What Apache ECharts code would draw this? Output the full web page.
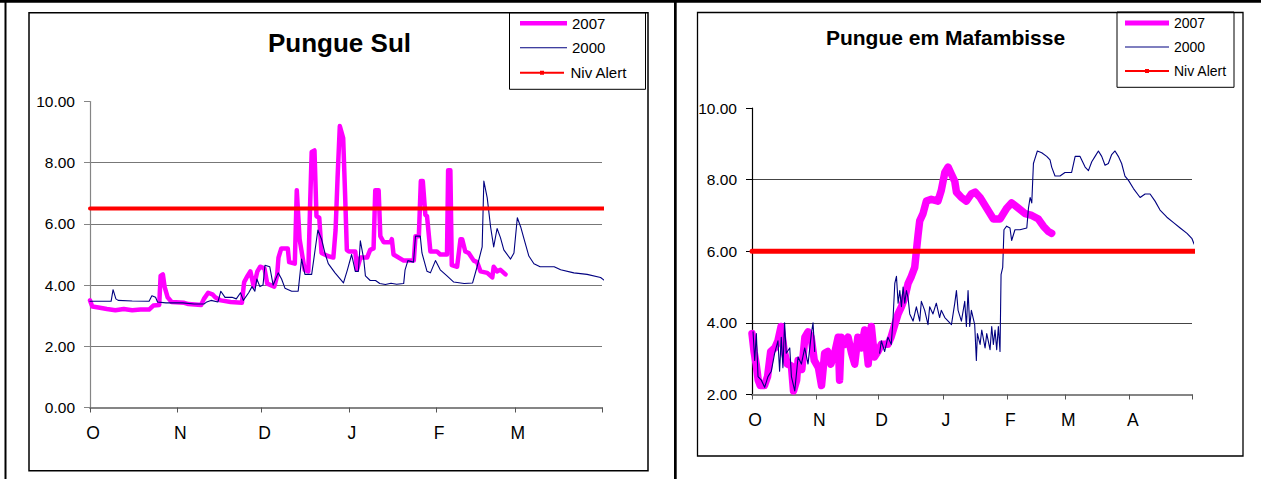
<!DOCTYPE html>
<html>
<head>
<meta charset="utf-8">
<script src="https://cdn.jsdelivr.net/npm/echarts@6/dist/echarts.min.js"></script>
<style>
html,body{margin:0;padding:0;background:#ffffff;}
#c{width:1261px;height:479px;}
</style>
</head>
<body>
<div id="c"></div>
<script>
// ---------- shared ----------
const FONT = '"Liberation Sans", Arial, Helvetica, sans-serif';
const seriesNames = ['2007', '2000', 'Niv Alert'];

// ---------- Pungue Sul (days counted from 1 October) ----------
const sulTitle = 'Pungue Sul';
const sulMonths = ['O', 'N', 'D', 'J', 'F', 'M'];
const sulMonthStart = [0, 31, 61, 92, 123, 151];
const sulAxisEnd = 182;
const sulYTicks = [0, 10, 2];           // min, max, step
const sulAlertLevel = 6.5;
const sul2007 = [[0,3.5],[0.8,3.3],[3,3.27],[6,3.22],[9,3.18],[12,3.22],[15,3.18],[18,3.2],[21,3.2],[22.5,3.33],[24.6,3.35],
  [25.1,4.3],[25.9,4.35],[26.5,3.95],[27.6,3.6],[29,3.45],[33.5,3.42],[35,3.38],[39.5,3.35],[40.5,3.55],[42,3.75],[43.5,3.7],
  [44.5,3.6],[46.5,3.5],[50,3.45],[54,3.42],[54.8,4.1],[56,4.3],[57,4.45],[58.2,3.95],[59.5,4.45],[60.5,4.6],[62,4.55],[63,4.05],
  [65.5,3.95],[66.5,4.3],[67,4.9],[68,5.2],[70.3,5.2],[70.8,4.75],[72.8,4.7],[73.5,7.1],[74.5,5.5],[76.3,4.5],[77.6,4.45],
  [78.3,6.8],[78.8,8.35],[79.8,8.4],[80.5,6.25],[81.5,6.2],[82.3,5.05],[84.5,4.95],[86.5,4.9],[87.3,5.8],[88,7.5],[88.8,9.2],
  [90,8.8],[90.7,6.9],[91.3,5.15],[92,5.1],[94.3,5.1],[94.9,4.5],[96.1,4.9],[98.5,4.9],[99.6,5.15],[100.8,5.2],[101.4,7.1],
  [102.6,7.1],[103.2,5.6],[104.4,5.4],[106.8,5.4],[107.3,5.5],[107.9,5.0],[111.5,4.8],[115.1,4.8],[115.7,5.6],[116.9,5.6],
  [117.6,7.4],[118.3,7.4],[119.2,6.3],[119.8,6.25],[121,5.1],[123.3,5.1],[124.5,5.0],[126.9,5.0],[127.3,7.75],[128.1,7.75],
  [128.6,4.65],[130.5,4.6],[131.7,5.5],[132.3,5.5],[133.4,5.1],[134.6,5.05],[136.4,4.8],[137.6,4.75],[138.8,4.45],[141.2,4.4],
  [143,4.25],[143.5,4.6],[144.7,4.45],[145.9,4.5],[147.7,4.35]];
const sul2000 = [[0,3.47],[7.5,3.47],[8.2,3.85],[9.2,3.55],[10,3.5],[15,3.48],[21,3.47],[22,3.65],[23.3,3.6],[24,3.45],[27,3.42],
  [33,3.42],[37,3.38],[40.5,3.38],[41.5,3.45],[43,3.5],[45.5,3.45],[46.5,3.8],[48,3.6],[50.5,3.6],[52,3.55],[53.5,3.75],[54.5,3.5],
  [56.4,3.75],[57.6,3.95],[58.6,3.8],[59.3,4.2],[60.4,3.95],[61.5,4.0],[62.2,4.65],[63.9,4.6],[65.1,4.0],[66.9,4.4],[68.1,4.2],
  [69.3,3.9],[70.5,3.85],[71.7,3.8],[74,3.8],[75.2,4.85],[76.4,4.35],[78.8,4.35],[81,5.8],[82.3,5.5],[83.5,5.05],[84.7,4.7],
  [87.1,4.4],[90.1,4.07],[91.5,4.5],[93,5.0],[94.3,4.45],[95.4,4.45],[96.1,5.45],[97.3,4.85],[97.9,4.3],[99.6,4.15],[101.5,4.15],
  [103,4.05],[105,4.02],[107,4.06],[109,4.03],[111.5,4.05],[112,4.5],[113,4.8],[115,4.75],[115.7,5.6],[117.4,5.6],[118,5.05],
  [119.8,4.45],[121,4.4],[122.8,4.8],[124.5,4.5],[126.9,4.3],[129.3,4.1],[133,4.05],[136,4.07],[137.6,4.6],[139.4,5.25],[140,7.4],
  [141.2,6.85],[142.4,5.9],[143.5,5.25],[144.7,5.85],[145.9,5.55],[147.1,5.15],[149.5,4.85],[150.7,5.05],[151.9,6.2],[153.1,5.9],
  [154.3,5.5],[156,4.95],[157.8,4.7],[160,4.6],[162.5,4.6],[165,4.6],[167.3,4.5],[172,4.4],[176.7,4.35],[181.5,4.25],[183.3,4.12]];
const sulAlertDays = [0, 184];

// ---------- Pungue em Mafambisse (days counted from 1 October) ----------
const mafTitle = 'Pungue em Mafambisse';
const mafMonths = ['O', 'N', 'D', 'J', 'F', 'M', 'A'];
const mafMonthStart = [0, 31, 61, 92, 123, 151, 182];
const mafAxisEnd = 212;
const mafYTicks = [2, 10, 2];
const mafAlertLevel = 6.0;
const maf2007 = [[0,3.7],[1,3.2],[2,2.85],[3,2.4],[4,2.25],[6,2.25],[7.5,2.5],[9,3.2],[11,3.3],[12.5,3.5],[14,3.9],[15.5,3.2],
  [17,2.85],[19,2.8],[20,2.1],[21.5,2.4],[22.2,2.95],[24,2.7],[25.5,3.6],[27,3.75],[28.5,3.6],[30,2.95],[32,2.75],[33.5,2.25],
  [35,3.15],[36.5,3.2],[38,2.85],[40,3.2],[41.5,3.6],[42.2,2.4],[43,3.6],[44.7,3.4],[46.3,3.6],[48,3.15],[49.5,2.85],[51,3.6],
  [52.7,3.3],[54.3,3.8],[56,2.85],[57.5,3.9],[59,3.05],[60.7,3.2],[62.3,3.4],[65.5,3.4],[67,3.6],[68.8,3.95],[70.4,4.25],[72,4.45],
  [73.6,4.7],[75.2,5.1],[76.8,5.3],[78.4,5.55],[79.2,6.0],[80,6.45],[80.8,6.85],[82.4,7.05],[84,7.4],[86.4,7.45],[89.6,7.4],
  [91.2,7.7],[92.9,8.2],[94.5,8.35],[96.1,8.15],[97.7,7.95],[98.5,7.65],[100.9,7.5],[103.3,7.4],[105.7,7.6],[107.5,7.65],
  [109.9,7.5],[113.1,7.2],[116.3,6.9],[119.5,6.9],[122.7,7.2],[125.1,7.35],[128.4,7.2],[131.6,7.05],[134.8,7.0],[138,6.9],
  [140.4,6.7],[142.8,6.55],[144.4,6.5]];
const maf2000 = [[0.5,3.75],[1.3,2.95],[2.1,3.7],[2.9,2.5],[4.5,2.4],[6.1,2.2],[7.7,2.5],[9.3,2.65],[10.9,3.15],[12.5,3.5],
  [13.3,2.65],[14.1,3.6],[14.9,2.75],[15.7,4.0],[16.5,3.15],[18.2,3.3],[19,2.5],[20.6,2.1],[22.2,3.05],[23.8,2.85],[25.4,3.3],
  [27,2.85],[28.6,3.7],[29.4,4.0],[30.2,3.2],[31,null],
  [61.5,3.15],[62.3,3.5],[63.9,3.2],[65.5,3.6],[67.1,3.4],[67.9,4.05],[68.8,5.1],[69.6,5.3],[70.4,4.55],[71.2,4.9],[72,4.45],
  [72.8,5.0],[73.6,4.55],[74.4,4.9],[75.2,4.7],[76,4.25],[77.6,4.05],[79.2,4.45],[80.8,4.05],[81.6,4.6],[83.2,4.35],[84.8,3.95],
  [85.6,4.45],[87.2,4.25],[88.8,4.55],[90.4,4.15],[91.2,4.35],[92.9,4.15],[94.5,4.05],[96.1,3.95],[97.7,4.55],[98.5,4.9],
  [99.3,4.35],[100.9,4.05],[102.5,4.6],[103.3,3.9],[104.1,4.9],[104.9,3.9],[105.7,4.35],[107.3,3.95],[108.1,2.95],[108.6,3.7],
  [109.9,3.4],[110.7,3.8],[112.3,3.3],[113.1,3.7],[114.7,3.25],[115.5,3.9],[116.3,3.4],[117.1,3.8],[117.9,3.25],[118.7,3.9],
  [119.5,3.2],[120,5.35],[120.8,5.55],[121.4,6.6],[122.7,6.7],[124.3,6.65],[125.1,6.3],[126.7,6.6],[129.1,6.6],[132.4,6.65],
  [133.2,7.2],[134,7.5],[134.8,7.35],[135.6,8.45],[136.4,8.6],[137.5,8.8],[139.6,8.75],[142,8.65],[143.6,8.55],[144.4,8.35],
  [146,8.1],[148.4,8.1],[150.8,8.2],[154,8.2],[155.7,8.65],[158,8.65],[160.5,8.35],[162.1,8.25],[163.7,8.5],[165.3,8.65],
  [166.9,8.8],[168.5,8.65],[170.1,8.4],[171.7,8.45],[173.3,8.7],[174.9,8.8],[176.5,8.65],[178.1,8.45],[179.7,8.1],[181.4,7.98],
  [183.8,7.75],[187,7.5],[189.4,7.6],[191.8,7.6],[194.2,7.4],[196.6,7.15],[199.9,6.95],[203.1,6.8],[206.3,6.65],[209.6,6.5],
  [212,6.35],[213,6.2]];
const mafAlertDays = [0, 213.4];

// ---------- styles ----------
const colors = { y2007: '#ff00ff', y2000: '#000080', alert: '#ff0000' };

function xAxisFor(grid, starts, months, end, axisColor) {
  return {
    type: 'value', gridIndex: grid, min: 0, max: end, position: 'bottom',
    axisLine: { show: true, onZero: false, lineStyle: { color: axisColor, width: 2 } },
    axisTick: { show: true, length: 5, customValues: starts.concat([end]), lineStyle: { color: '#555', width: 1 } },
    axisLabel: {
      customValues: starts, margin: 16, color: '#000', fontFamily: FONT, fontSize: 17.5,
      padding: [0, 0, 0, 6],
      formatter: function (v) { const i = starts.indexOf(v); return i >= 0 ? months[i] : ''; }
    },
    splitLine: { show: false }
  };
}
function yAxisFor(grid, ticks, axisColor, gridColor) {
  return {
    type: 'value', gridIndex: grid, min: ticks[0], max: ticks[1], interval: ticks[2],
    axisLine: { show: true, onZero: false, lineStyle: { color: axisColor, width: 1.2 } },
    axisTick: { show: true, length: 6, lineStyle: { color: axisColor } },
    axisLabel: { margin: 15, color: '#000', fontFamily: FONT, fontSize: 15.5,
      formatter: function (v) { return v.toFixed(2); } },
    splitLine: { show: true, showMinLine: false, showMaxLine: false, lineStyle: { color: gridColor, width: 1 } }
  };
}
function lineSeries(name, grid, data, color, width, z) {
  return {
    name: name, type: 'line', xAxisIndex: grid, yAxisIndex: grid, data: data,
    symbol: 'none', showSymbol: false, connectNulls: false, clip: false, silent: true, z: z,
    lineStyle: { color: color, width: width, join: 'round', cap: 'round' },
    itemStyle: { color: color }, emphasis: { disabled: true }
  };
}
function legendItem(name, icon, left, top, w, h, fs) {
  return {
    data: [{ name: name, icon: icon }], left: left, top: top, orient: 'vertical', padding: 0,
    itemWidth: w, itemHeight: h, selectedMode: false,
    itemStyle: { borderWidth: 0 },
    textStyle: { color: '#000', fontFamily: FONT, fontSize: fs, lineHeight: 16 }
  };
}
const alertIcon = 'path://M0,1h44v2h-44zM20,0h4v4h-4z';

const option = {
  animation: false,
  backgroundColor: '#ffffff',
  grid: [
    { left: 90, top: 101.5, width: 512, height: 306 },
    { left: 752, top: 108, width: 440, height: 286.5 }
  ],
  xAxis: [
    xAxisFor(0, sulMonthStart, sulMonths, sulAxisEnd, '#858585'),
    xAxisFor(1, mafMonthStart, mafMonths, mafAxisEnd, '#858585')
  ],
  yAxis: [
    yAxisFor(0, sulYTicks, '#858585', '#777777'),
    yAxisFor(1, mafYTicks, '#000000', '#444444')
  ],
  legend: [
    legendItem(seriesNames[0], 'rect', 520, 15.3, 47, 4.5, 15),
    legendItem(seriesNames[1], 'rect', 520, 39.7, 47, 1, 15),
    legendItem(seriesNames[2], alertIcon, 520, 64.7, 47, 4, 15),
    legendItem(seriesNames[0], 'rect', 1125, 15, 44, 5, 14),
    legendItem(seriesNames[1], 'rect', 1125, 39, 44, 1, 14),
    legendItem(seriesNames[2], alertIcon, 1125, 63, 44, 4, 14)
  ],
  series: [
    lineSeries(seriesNames[0], 0, sul2007, colors.y2007, 4.5, 2),
    lineSeries(seriesNames[1], 0, sul2000, colors.y2000, 1.1, 3),
    lineSeries(seriesNames[2], 0, sulAlertDays.map(d => [d, sulAlertLevel]), colors.alert, 4, 4),
    lineSeries(seriesNames[0], 1, maf2007, colors.y2007, 7.5, 2),
    lineSeries(seriesNames[1], 1, maf2000, colors.y2000, 1.1, 3),
    lineSeries(seriesNames[2], 1, mafAlertDays.map(d => [d, mafAlertLevel]), colors.alert, 5, 4)
  ],
  graphic: [
    // table frame
    { type: 'rect', shape: { x: 0, y: 0, width: 1261, height: 2.7 }, style: { fill: '#000' }, silent: true },
    { type: 'rect', shape: { x: 4.5, y: 0, width: 2, height: 479 }, style: { fill: '#000' }, silent: true },
    { type: 'rect', shape: { x: 674, y: 0, width: 2.7, height: 479 }, style: { fill: '#000' }, silent: true },
    // chart frames
    { type: 'rect', shape: { x: 29, y: 12.7, width: 619, height: 458 }, style: { fill: 'none', stroke: '#000', lineWidth: 1.5 }, silent: true },
    { type: 'rect', shape: { x: 697.5, y: 12.5, width: 545.5, height: 443.5 }, style: { fill: 'none', stroke: '#000', lineWidth: 1.3 }, silent: true },
    // legend frames
    { type: 'rect', shape: { x: 509.5, y: 12.7, width: 136, height: 76.6 }, style: { fill: 'none', stroke: '#000', lineWidth: 1 }, silent: true },
    { type: 'rect', shape: { x: 1117, y: 12, width: 117, height: 75.3 }, style: { fill: 'none', stroke: '#000', lineWidth: 1 }, silent: true },
    // titles
    { type: 'text', x: 339.5, y: 42.5, silent: true,
      style: { text: sulTitle, font: 'bold 26px ' + FONT, fill: '#000', textAlign: 'center', textVerticalAlign: 'middle' } },
    { type: 'text', x: 945.5, y: 37, silent: true,
      style: { text: mafTitle, font: 'bold 21px ' + FONT, fill: '#000', textAlign: 'center', textVerticalAlign: 'middle' } }
  ]
};

const chart = echarts.init(document.getElementById('c'), null, { renderer: 'svg', width: 1261, height: 479 });
chart.setOption(option);
</script>
</body>
</html>
